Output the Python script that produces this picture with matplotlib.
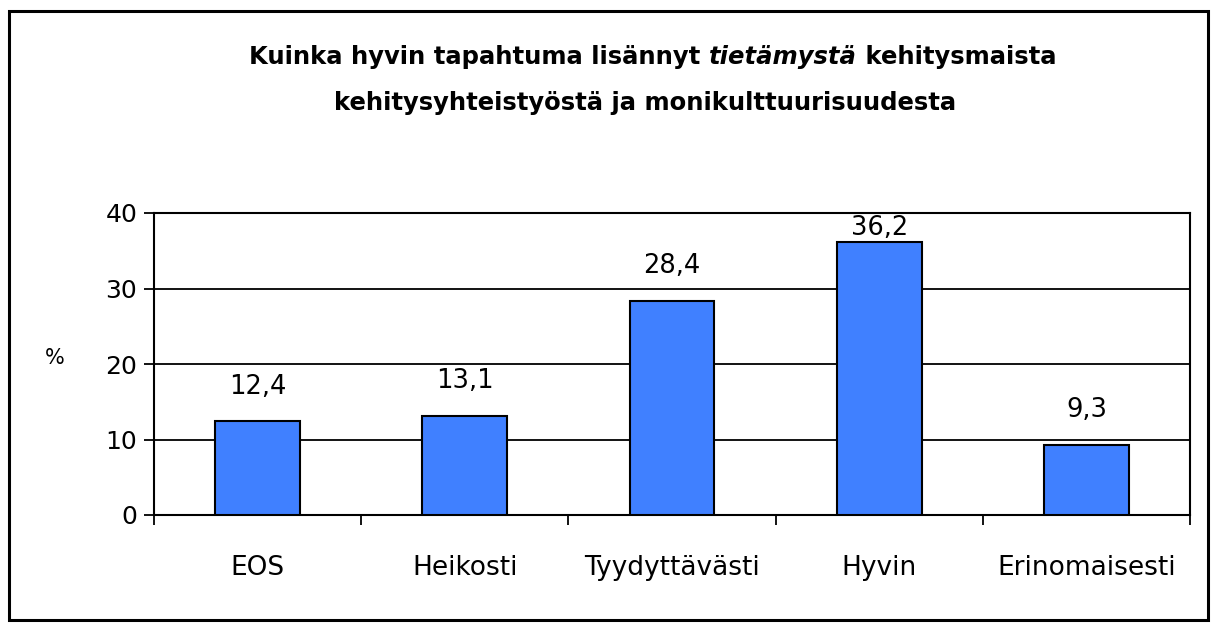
import numpy as np
import matplotlib
matplotlib.use('Agg')
import matplotlib.pyplot as plt
from matplotlib.patches import Rectangle

categories = ['EOS', 'Heikosti', 'Tyydyttävästi', 'Hyvin', 'Erinomaisesti']
values = [12.4, 13.1, 28.4, 36.2, 9.3]
yticks = [0, 10, 20, 30, 40]
title_line1 = [('Kuinka hyvin tapahtuma lisännyt ', 'normal'),
               ('tietämystä', 'italic'),
               (' kehitysmaista', 'normal')]
title_line2 = 'kehitysyhteistyöstä ja monikulttuurisuudesta'

plt.rcParams['font.family'] = ['DejaVu Sans']

W, H = 1218, 624
fig = plt.figure(figsize=(W / 100, H / 100), dpi=100)
fig.patch.set_facecolor('white')

# outer frame
fig.patches.append(Rectangle((9 / W, 4 / H), 1199 / W, 609 / H, transform=fig.transFigure,
                             fill=False, edgecolor='black', linewidth=2.2))

ax = fig.add_axes([154 / W, 1 - 515 / H, (1190 - 154) / W, (515 - 213) / H])
x = np.arange(len(categories))
ax.bar(x, values, width=0.41, color='#4080ff', edgecolor='black', linewidth=1.5, zorder=3)

ax.set_xlim(-0.5, len(categories) - 0.5)
ax.set_ylim(0, 40)
ax.set_yticks(yticks)
ax.set_yticklabels([str(v) for v in yticks])
ax.yaxis.grid(True, color='black', linewidth=1.3, zorder=0)
ax.set_axisbelow(True)

ax.set_xticks(np.arange(len(categories) + 1) - 0.5)
ax.set_xticklabels([])
ax.set_xticks(x, minor=True)
ax.set_xticklabels(categories, minor=True)
ax.tick_params(axis='x', which='major', length=7, width=1.3, direction='out')
ax.tick_params(axis='x', which='minor', length=0, pad=29, labelsize=19)
ax.tick_params(axis='y', length=7, width=1.3, pad=5, labelsize=18)

for s in ['left', 'bottom', 'right', 'top']:
    ax.spines[s].set_linewidth(1.5)
    ax.spines[s].set_color('black')

for xi, v in zip(x, values):
    ax.text(xi, min(v + 4.6, 38.0), f'{v:.1f}'.replace('.', ','), ha='center', va='center',
            fontsize=18.5)

fig.text(55 / W, 1 - 358 / H, '%', ha='center', va='center', fontsize=15)

# title with italic word
fig.canvas.draw()
r = fig.canvas.get_renderer()
tsize = 17.5
pieces = []
total = 0
for txt, st in title_line1:
    t = fig.text(0, 1 - 57 / H, txt, fontsize=tsize, fontweight='bold', style=st,
                 ha='left', va='center')
    w = t.get_window_extent(renderer=r).width
    pieces.append((t, w))
    total += w
xs = 653 - total / 2
for t, w in pieces:
    t.set_x(xs / W)
    xs += w
fig.text(645 / W, 1 - 103 / H, title_line2, fontsize=tsize, fontweight='bold',
         ha='center', va='center')

fig.savefig('out.png', dpi=100)
